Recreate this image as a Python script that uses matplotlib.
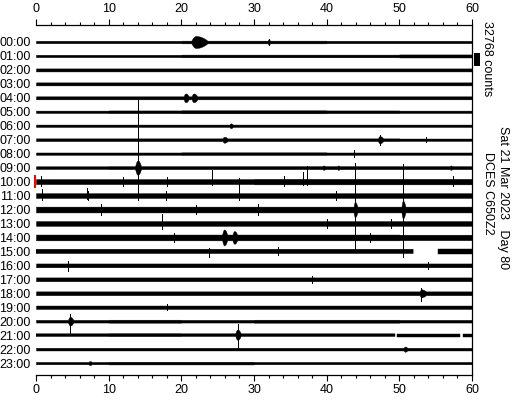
import numpy as np
import matplotlib
matplotlib.use("Agg")
import matplotlib.pyplot as plt
from matplotlib.patches import Rectangle
from matplotlib.ticker import MultipleLocator
import matplotlib.transforms as mtransforms

plt.rcParams['font.family'] = ['Liberation Sans', 'DejaVu Sans']

# ---------------- data (counts) ----------------
hour_labels = ["%02d:00" % h for h in range(24)]
minutes_bins = [0, 10, 20, 30, 40, 50, 60]

# background noise half-amplitude per 10-minute bin (counts)
envelope_counts = [
    [3000, 3000, 3400, 3400, 3000, 3000],   # 00
    [3000, 3000, 3400, 3400, 3400, 3800],   # 01
    [3800, 3800, 3800, 3800, 3800, 3800],   # 02
    [3800, 3800, 3800, 3800, 3800, 3800],   # 03
    [3800, 3800, 3800, 3800, 3800, 3800],   # 04
    [3000, 3400, 3800, 3800, 3400, 3000],   # 05
    [3000, 3000, 3000, 3000, 3000, 3000],   # 06
    [3400, 3400, 3400, 3400, 3400, 3000],   # 07
    [3000, 3000, 3400, 3400, 3000, 3000],   # 08
    [3400, 3800, 3800, 3800, 3800, 3800],   # 09
    [6300, 6300, 6300, 6900, 6900, 6900],   # 10
    [6000, 6000, 6000, 6000, 6000, 6000],   # 11
    [7300, 7300, 7300, 7300, 7300, 7300],   # 12
    [6000, 6000, 6000, 6000, 6000, 6000],   # 13
    [7300, 7300, 7300, 7300, 7300, 6900],   # 14
    [5400, 5400, 5400, 5400, 5400, 5400],   # 15
    [4800, 4800, 4800, 4800, 4800, 4800],   # 16
    [4800, 4800, 4800, 4800, 4800, 4800],   # 17
    [4800, 4800, 4800, 4800, 4800, 4800],   # 18
    [4300, 4300, 4300, 4300, 4300, 4300],   # 19
    [3400, 3800, 3400, 3800, 3800, 3400],   # 20
    [3400, 3800, 3400, 3400, 3400, 3400],   # 21
    [3400, 3400, 3400, 3400, 3400, 3400],   # 22
    [3000, 3400, 3400, 3000, 3000, 3000],   # 23
]

# seismic events (spindles): row, peak minute, onset & coda length (min), amplitude (counts)
event_row = [0, 4, 4, 6, 7, 7, 9, 12, 12, 14, 14, 18, 20, 21, 22, 23, 0, 9, 9, 9]
event_min = [22.0, 20.6, 21.7, 26.8, 25.9, 47.3, 14.0, 43.9, 50.5, 25.9, 27.3, 53.0, 4.7, 27.8, 50.8, 7.4,
             32.0, 39.6, 41.6, 57.1]
event_on = [0.7, 0.35, 0.35, 0.25, 0.3, 0.3, 0.4, 0.25, 0.25, 0.35, 0.35, 0.25, 0.35, 0.35, 0.3, 0.25,
            0.15, 0.3, 0.3, 0.3]
event_coda = [1.8, 0.5, 0.6, 0.4, 0.6, 0.6, 0.5, 0.4, 0.4, 0.5, 0.5, 0.9, 0.5, 0.5, 0.4, 0.4,
              0.3, 0.3, 0.3, 0.3]
event_amp = [15000, 11000, 11000, 6000, 7500, 9000, 18000, 19000, 22000, 20000, 16000, 10000, 11000,
             13000, 6500, 5000, 6500, 5500, 5500, 5500]

# spikes: row, minute, upward and downward excursion (counts)
spike_row = [9, 12, 12, 10, 11, 10, 11, 11, 13, 16, 20, 21, 18, 7, 15, 10, 10, 10, 10, 10, 11, 11,
             11, 13, 15, 8, 7, 10, 12, 12, 13, 14, 17, 19, 16, 12, 14, 0]
spike_min = [14.0, 43.9, 50.5, 24.2, 28.0, 37.3, 0.8, 7.0, 17.3, 4.4, 4.7, 27.8, 53.0, 47.3, 23.8,
             0.7, 12.0, 18.0, 34.1, 57.4, 17.9, 41.3, 7.2, 48.9, 33.3, 43.8, 53.7, 36.8,
             9.0, 30.5, 40.0, 19.0, 38.0, 18.0, 54.0, 22.0, 46.0, 32.0]
spike_up = [171000, 116000, 113000, 30000, 43000, 38000, 17600, 20000, 25000, 10000, 17600, 27700,
            12600, 12600, 7500, 15000, 12000, 12000, 13000, 13000, 12000, 12000, 12000, 11000, 10000,
            8000, 6000, 25000, 13000, 13000, 12000, 12000, 9000, 8000, 9000, 12000, 12000, 8000]
spike_down = [80000, 98000, 118000, 7500, 10000, 7500, 12000, 7500, 15000, 15000, 30000, 37800, 20000,
              12600, 15000, 12000, 12000, 12000, 12000, 12000, 12000, 12000, 12000, 11000, 10000, 8000,
              6000, 7500, 13000, 13000, 12000, 12000, 9000, 8000, 9000, 12000, 12000, 8000]

# gaps in recording: row, start minute, end minute
gap_row = [15, 21, 21]
gap_start = [51.9, 49.4, 58.3]
gap_end = [55.3, 49.7, 58.7]

full_scale = 32768
date_text = "Sat 21 Mar 2023   Day 80"
station_text = "DCES C650Z2"
current_row = 10

# ---------------- layout ----------------
W, H = 512, 400
ROW = 35000.0
fig = plt.figure(figsize=(W / 100, H / 100), dpi=100)
x0, x1 = 36, 472
ytop, ybot = 24.5, 374.5
ax = fig.add_axes([x0 / W, 1 - ybot / H, (x1 - x0) / W, (ybot - ytop) / H])

row0_px, row_sp = 42.0, 13.96
ax.set_xlim(0, 60)
ax.set_ylim(-(ybot - row0_px) / row_sp * ROW, (row0_px - ytop) / row_sp * ROW)

xs = np.arange(0, 60.0001, 0.02)
edges = np.array(minutes_bins)
for r in range(24):
    env = np.array(envelope_counts[r], dtype=float)
    idx = np.clip(np.searchsorted(edges, xs, side='right') - 1, 0, len(env) - 1)
    amp = env[idx]
    for er, em, eo, ec, ea in zip(event_row, event_min, event_on, event_coda, event_amp):
        if er != r:
            continue
        t = np.where(xs < em, (em - xs) / eo, (xs - em) / ec)
        shape = np.clip(1 - t ** 2, 0, 1)
        amp = np.maximum(amp, ea * shape)
    valid = np.ones_like(xs, dtype=bool)
    for gr, gs, ge in zip(gap_row, gap_start, gap_end):
        if gr == r:
            valid &= ~((xs > gs) & (xs < ge))
    base = -r * ROW
    ax.fill_between(xs, base - amp, base + amp, where=valid, color='black', lw=0.3,
                    edgecolor='black', antialiased=True)

for sr, sm, su, sd in zip(spike_row, spike_min, spike_up, spike_down):
    base = -sr * ROW
    ax.vlines(sm, base - sd, base + su, color='black', lw=0.6, antialiased=False)

# spines and rulers
ax.spines['left'].set_visible(False)
for s in ['top', 'bottom', 'right']:
    ax.spines[s].set_linewidth(0.9)
    ax.spines[s].set_color('black')

ax.xaxis.set_major_locator(MultipleLocator(10))
ax.xaxis.set_minor_locator(MultipleLocator(2))
ax.tick_params(axis='x', which='both', top=True, bottom=True, labeltop=True, labelbottom=True,
               direction='out', width=0.8, labelsize=9, pad=2.5)
ax.tick_params(axis='x', which='major', length=4.5)
ax.tick_params(axis='x', which='minor', length=2.3)

ax.set_yticks([-r * ROW for r in range(24)])
ax.set_yticklabels(hour_labels)
ax.tick_params(axis='y', length=0, pad=4, labelsize=9)

# full-scale bar (right side)
trans = mtransforms.blended_transform_factory(ax.transAxes, ax.transData)
bar_center = -(59.7 - row0_px) / row_sp * ROW
ax.add_patch(Rectangle((1.004, bar_center - full_scale / 2), 0.015, full_scale, transform=trans,
                       color='black', clip_on=False, lw=0))
# current time marker
ax.add_patch(Rectangle((-0.005, -current_row * ROW - 6.5 / row_sp * ROW), 0.005, 13 / row_sp * ROW,
                       transform=trans, color='red', clip_on=False, lw=0))

fig.text(487 / W, 1 - 59 / H, "%d counts" % full_scale, rotation=-90, ha='center', va='center', fontsize=9)
fig.text(503 / W, 1 - 198 / H, date_text, rotation=-90, ha='center', va='center', fontsize=9)
fig.text(488 / W, 1 - 193 / H, station_text, rotation=-90, ha='center', va='center', fontsize=9)

fig.savefig("out.png", dpi=100)
